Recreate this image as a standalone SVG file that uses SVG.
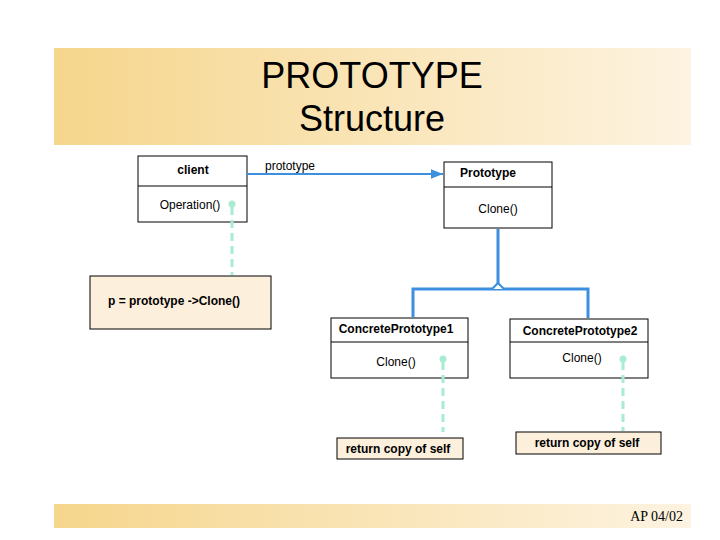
<svg xmlns="http://www.w3.org/2000/svg" width="720" height="540" viewBox="0 0 720 540">
<defs>
<linearGradient id="band" x1="0" y1="0" x2="1" y2="0">
<stop offset="0" stop-color="#f6d68c"/>
<stop offset="1" stop-color="#fdf3e1"/>
</linearGradient>
<marker id="arr" viewBox="0 0 10 10" refX="10" refY="5" markerWidth="6" markerHeight="6" orient="auto">
<path d="M0,1 L10,5 L0,9 Z" fill="#3d8fe0"/>
</marker>
<style>
.box{fill:#fff;stroke:#000;stroke-width:1}
.note{fill:#fcefdc;stroke:#000;stroke-width:1}
.t{font-family:"Liberation Sans",Arial,sans-serif;font-size:12px;fill:#000}
.b{font-weight:bold}
.blue{fill:none;stroke:#3d8fe0;stroke-width:3}
.dash{fill:none;stroke:#a8ecd2;stroke-width:3;stroke-dasharray:8,5}
.dot{fill:#a8ecd2}
</style>
</defs>
<rect width="720" height="540" fill="#fff"/>
<g id="title">
<rect x="54" y="48" width="637" height="97" fill="url(#band)"/>
<text x="372" y="88" text-anchor="middle" font-family="Liberation Sans,Arial,sans-serif" font-size="36">PROTOTYPE</text>
<text x="372" y="131" text-anchor="middle" font-family="Liberation Sans,Arial,sans-serif" font-size="36">Structure</text>
</g>
<g id="footer">
<rect x="54" y="504" width="637" height="24" fill="url(#band)"/>
<text x="683" y="521" text-anchor="end" font-family="Liberation Serif,Times New Roman,serif" font-size="14">AP 04/02</text>
</g>
<g id="client">
<rect class="box" x="138" y="156" width="109" height="66"/>
<line x1="138" y1="186" x2="247" y2="186" stroke="#000"/>
<text class="t b" x="193" y="174" text-anchor="middle">client</text>
<text class="t" x="190" y="209" text-anchor="middle">Operation()</text>
</g>
<g id="prototype">
<rect class="box" x="444" y="162" width="108" height="66"/>
<line x1="444" y1="187" x2="552" y2="187" stroke="#000"/>
<text class="t b" x="488" y="177" text-anchor="middle">Prototype</text>
<text class="t" x="498" y="213" text-anchor="middle">Clone()</text>
</g>
<g id="note-client">
<rect class="note" x="90" y="276" width="181" height="53"/>
<text class="t b" x="108" y="305">p = prototype -&gt;Clone()</text>
</g>
<g id="concrete1">
<rect class="box" x="331" y="318" width="137" height="60"/>
<line x1="331" y1="342" x2="468" y2="342" stroke="#000"/>
<text class="t b" x="396" y="333" text-anchor="middle">ConcretePrototype1</text>
<text class="t" x="396" y="366" text-anchor="middle">Clone()</text>
</g>
<g id="concrete2">
<rect class="box" x="510" y="319" width="138" height="59"/>
<line x1="510" y1="342" x2="648" y2="342" stroke="#000"/>
<text class="t b" x="580" y="335" text-anchor="middle">ConcretePrototype2</text>
<text class="t" x="582" y="362" text-anchor="middle">Clone()</text>
</g>
<g id="note1">
<rect class="note" x="337" y="438" width="126" height="21"/>
<text class="t b" x="398" y="453" text-anchor="middle">return copy of self</text>
</g>
<g id="note2">
<rect class="note" x="516" y="432" width="145" height="22"/>
<text class="t b" x="587" y="447" text-anchor="middle">return copy of self</text>
</g>
<g id="connectors">
<line x1="247" y1="174" x2="443" y2="174" stroke="#3d8fe0" stroke-width="2" marker-end="url(#arr)"/>
<text class="t" x="265" y="170">prototype</text>
<polyline class="blue" points="498,229 498,289"/>
<polyline class="blue" points="413,317 413,289 588,289 588,318"/>
<path d="M492,289 L498,283 L504,289" fill="#fff" stroke="#3d8fe0" stroke-width="2"/>
<line class="dash" x1="232" y1="207" x2="232" y2="275"/>
<circle class="dot" cx="232" cy="204" r="3.5"/>
<line class="dash" x1="443" y1="362" x2="443" y2="432"/>
<circle class="dot" cx="443" cy="359" r="3.5"/>
<line class="dash" x1="623" y1="362" x2="623" y2="431"/>
<circle class="dot" cx="623" cy="359" r="3.5"/>
</g>
</svg>
